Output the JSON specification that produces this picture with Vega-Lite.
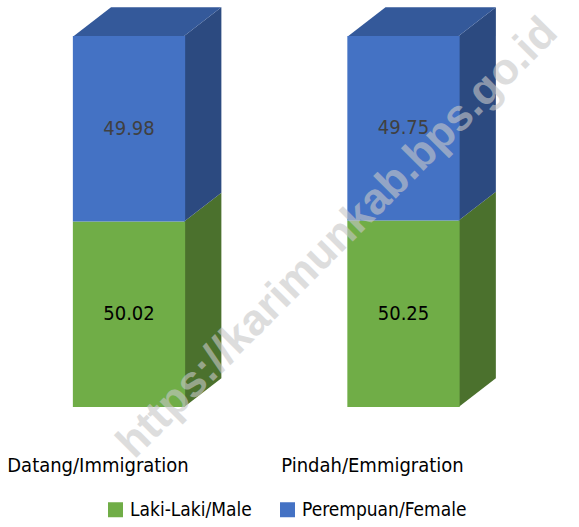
{
  "$schema": "https://vega.github.io/schema/vega-lite/v6.json",
  "width": 579,
  "height": 527,
  "autosize": {"type": "none"},
  "padding": 0,
  "config": {"view": {"stroke": null}, "font": "'Liberation Sans Narrow', 'DejaVu Sans Condensed', Roboto, sans-serif"},
  "datasets": {
    "bars": [
      {"cat": "Datang/Immigration", "idx": 0, "gender": "Laki-Laki/Male", "value": 50.02},
      {"cat": "Datang/Immigration", "idx": 0, "gender": "Perempuan/Female", "value": 49.98},
      {"cat": "Pindah/Emmigration", "idx": 1, "gender": "Laki-Laki/Male", "value": 50.25},
      {"cat": "Pindah/Emmigration", "idx": 1, "gender": "Perempuan/Female", "value": 49.75}
    ],
    "cats": [
      {"cat": "Datang/Immigration", "idx": 0},
      {"cat": "Pindah/Emmigration", "idx": 1}
    ],
    "wm": [{"t": "https://karimunkab.bps.go.id"}]
  },
  "resolve": {"scale": {"color": "independent"}},
  "layer": [
    {
      "data": {"name": "bars"},
      "transform": [
        {"stack": "value", "groupby": ["cat"], "sort": [{"field": "gender", "order": "ascending"}], "as": ["v0", "v1"]},
        {"calculate": "0", "as": "front"},
        {"calculate": "1", "as": "back"},
        {"fold": ["front", "back"], "as": ["face", "d"]},
        {"calculate": "datum.idx + 0.201 + datum.d * 0.1355", "as": "sx"},
        {"calculate": "datum.v0 + datum.d * 7.74", "as": "sy0"},
        {"calculate": "datum.v1 + datum.d * 7.74", "as": "sy1"}
      ],
      "mark": {"type": "area", "orient": "vertical", "opacity": 1},
      "encoding": {
        "x": {"field": "sx", "type": "quantitative", "scale": {"domain": [-0.4518, 1.6212]}, "axis": null},
        "y": {"field": "sy0", "type": "quantitative", "scale": {"domain": [-32.345, 109.7]}, "axis": null},
        "y2": {"field": "sy1"},
        "detail": {"field": "cat"},
        "color": {"field": "gender", "type": "nominal", "scale": {"domain": ["Laki-Laki/Male", "Perempuan/Female"], "range": ["#4B712D", "#2C4A80"]}, "legend": null}
      }
    },
    {
      "data": {"name": "bars"},
      "transform": [
        {"stack": "value", "groupby": ["cat"], "sort": [{"field": "gender", "order": "ascending"}], "as": ["v0", "v1"]},
        {"filter": "datum.gender == 'Perempuan/Female'"},
        {"calculate": "0", "as": "front"},
        {"calculate": "1", "as": "back"},
        {"fold": ["front", "back"], "as": ["face", "d"]},
        {"calculate": "datum.idx - 0.201 + datum.d * 0.1355", "as": "tx0"},
        {"calculate": "datum.idx + 0.201 + datum.d * 0.1355", "as": "tx1"},
        {"calculate": "datum.v1 + datum.d * 7.74", "as": "ty"}
      ],
      "mark": {"type": "area", "orient": "horizontal", "color": "#34599A", "opacity": 1},
      "encoding": {
        "y": {"field": "ty", "type": "quantitative", "scale": {"domain": [-32.345, 109.7]}, "axis": null},
        "x": {"field": "tx0", "type": "quantitative", "scale": {"domain": [-0.4518, 1.6212]}, "axis": null},
        "x2": {"field": "tx1"},
        "detail": {"field": "cat"}
      }
    },
    {
      "data": {"name": "bars"},
      "transform": [
        {"stack": "value", "groupby": ["cat"], "sort": [{"field": "gender", "order": "ascending"}], "as": ["v0", "v1"]}
      ],
      "mark": {"type": "bar", "width": 112.3, "opacity": 1},
      "encoding": {
        "x": {"field": "idx", "type": "quantitative", "scale": {"domain": [-0.4518, 1.6212]}, "axis": null},
        "y": {"field": "v0", "type": "quantitative", "scale": {"domain": [-32.345, 109.7]}, "axis": null},
        "y2": {"field": "v1"},
        "color": {
          "field": "gender",
          "type": "nominal",
          "scale": {"domain": ["Laki-Laki/Male", "Perempuan/Female"], "range": ["#70AD47", "#4472C4"]},
          "legend": {
            "orient": "none",
            "direction": "horizontal",
            "legendX": 106,
            "legendY": 500,
            "title": null,
            "symbolType": "square",
            "symbolSize": 225,
            "symbolStrokeWidth": 0,
            "symbolOpacity": 1,
            "labelFontSize": 19,
            "labelFont": "'Liberation Sans Narrow', 'DejaVu Sans Condensed', Roboto, sans-serif",
            "labelColor": "#000000",
            "labelLimit": 0,
            "labelOffset": 5,
            "columnPadding": 26,
            "padding": 0
          }
        }
      }
    },
    {
      "data": {"name": "bars"},
      "transform": [
        {"stack": "value", "groupby": ["cat"], "sort": [{"field": "gender", "order": "ascending"}], "as": ["v0", "v1"]},
        {"calculate": "(datum.v0 + datum.v1) / 2", "as": "vm"}
      ],
      "mark": {"type": "text", "fontSize": 20, "align": "center", "baseline": "middle"},
      "encoding": {
        "x": {"field": "idx", "type": "quantitative", "scale": {"domain": [-0.4518, 1.6212]}, "axis": null},
        "y": {"field": "vm", "type": "quantitative", "scale": {"domain": [-32.345, 109.7]}, "axis": null},
        "text": {"field": "value", "type": "quantitative", "format": ".2f"},
        "color": {"condition": {"test": "datum.gender == 'Perempuan/Female'", "value": "#404040"}, "value": "#000000"}
      }
    },
    {
      "data": {"name": "cats"},
      "mark": {"type": "text", "fontSize": 20, "align": "center", "baseline": "alphabetic", "dx": -31, "color": "#000000"},
      "encoding": {
        "x": {"field": "idx", "type": "quantitative", "scale": {"domain": [-0.4518, 1.6212]}, "axis": null},
        "y": {"datum": -17.4, "type": "quantitative", "scale": {"domain": [-32.345, 109.7]}, "axis": null},
        "text": {"field": "cat"}
      }
    },
    {
      "data": {"name": "wm"},
      "mark": {"type": "text", "font": "Liberation Sans", "fontWeight": "bold", "fontSize": 44, "align": "center", "baseline": "middle", "angle": 315, "color": "#C8C8C8", "opacity": 0.6},
      "encoding": {
        "x": {"datum": 0.76, "type": "quantitative", "scale": {"domain": [-0.4518, 1.6212]}, "axis": null},
        "y": {"datum": 45.5, "type": "quantitative", "scale": {"domain": [-32.345, 109.7]}, "axis": null},
        "text": {"field": "t"}
      }
    }
  ]
}
